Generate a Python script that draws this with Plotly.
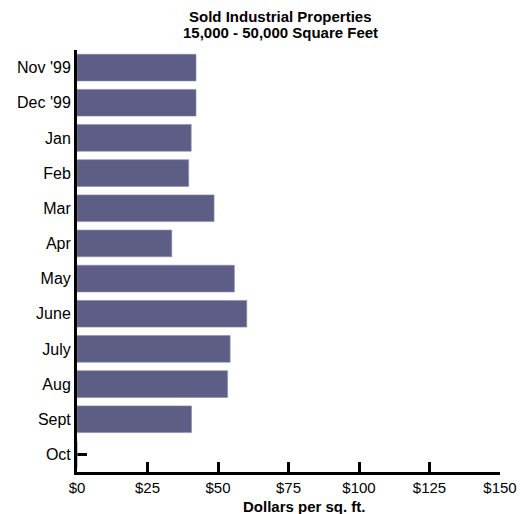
import plotly.graph_objects as go

months = ["Nov '99", "Dec '99", "Jan", "Feb", "Mar", "Apr", "May", "June", "July", "Aug", "Sept", "Oct"]
price = [42.2, 42.2, 40.5, 39.6, 48.6, 33.6, 55.8, 60.2, 54.3, 53.4, 40.6, 0]
x_ticks = [0, 25, 50, 75, 100, 125, 150]
x_labels = ["$" + str(v) for v in x_ticks]

W, H = 520, 514
L, R, T, B = 77, 20, 50, 42

fig = go.Figure(go.Bar(
    x=price, y=months, orientation="h",
    marker=dict(color="#5e5d85", line=dict(color="#8a89ad", width=0.6)),
))

fig.update_layout(
    width=W, height=H,
    margin=dict(l=L, r=R, t=T, b=B, autoexpand=False),
    plot_bgcolor="white", paper_bgcolor="white",
    bargap=0.24,
    showlegend=False,
    font=dict(family="Liberation Sans, Arial, sans-serif", size=15, color="black"),
)

fig.update_xaxes(
    range=[0, 150], tickvals=x_ticks, ticktext=x_labels,
    ticks="inside", ticklen=10, tickwidth=2.5, tickcolor="black",
    showline=True, linewidth=3, linecolor="black",
    showgrid=False, zeroline=False, automargin=False,
    tickfont=dict(family="Liberation Sans, Arial, sans-serif", size=15),
)
fig.update_yaxes(
    autorange="reversed",
    ticks="inside", ticklen=10, tickwidth=3, tickcolor="black",
    showline=True, linewidth=3, linecolor="black",
    showgrid=False, zeroline=False, layer="below traces", automargin=False,
    tickfont=dict(family="Liberation Sans, Arial, sans-serif", size=16),
)


def px_to_paper(px, py):
    return (px - L) / (W - L - R), (H - B - py) / (H - T - B)


title_font = dict(family="Liberation Sans, Arial, sans-serif", size=15, color="black")
for text, px, py in [("<b>Sold Industrial Properties</b>", 280, 16.5),
                     ("<b>15,000 - 50,000 Square Feet</b>", 280, 33),
                     ("<b>Dollars per sq. ft.</b>", 304, 506)]:
    ax, ay = px_to_paper(px, py)
    fig.add_annotation(text=text, x=ax, y=ay, xref="paper", yref="paper",
                       xanchor="center", yanchor="middle", showarrow=False, font=title_font)

# drop the default page margin so the 520x514 figure fills the window exactly
fig.write_html("out.html", config={"displayModeBar": False},
               post_script="document.body.style.margin='0';document.body.style.overflow='hidden';")
